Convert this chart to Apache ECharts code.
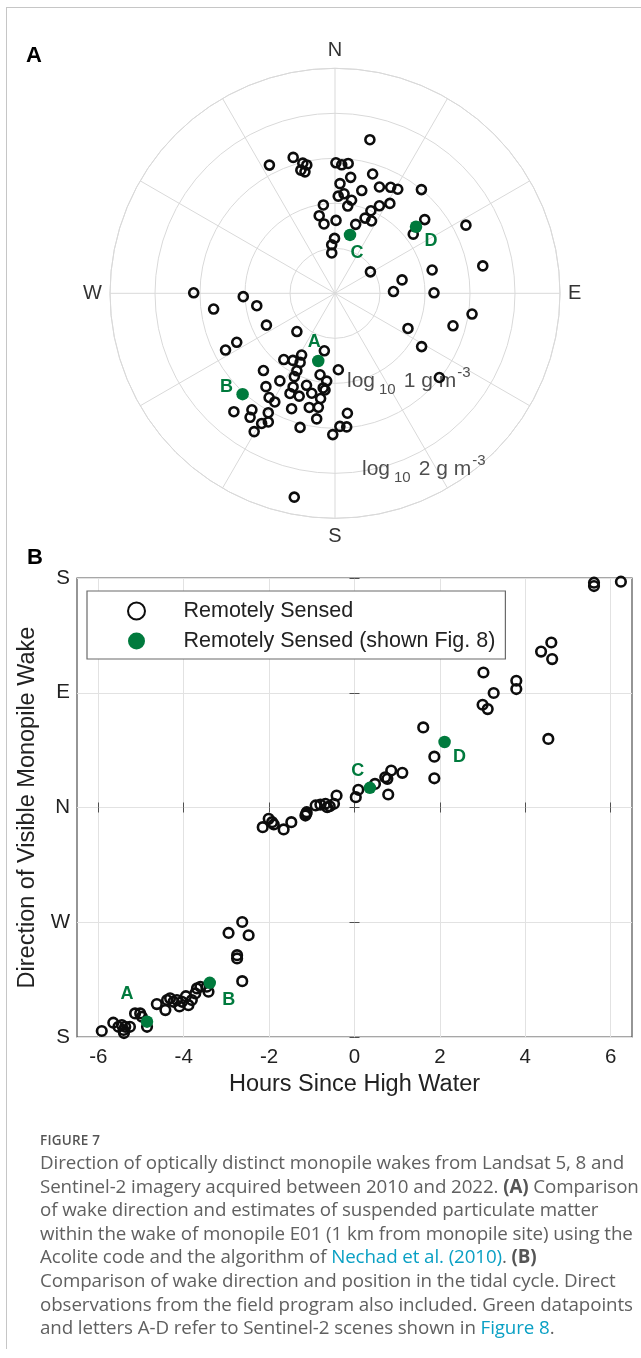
<!DOCTYPE html>
<html>
<head>
<meta charset="utf-8">
<script src="https://cdn.jsdelivr.net/npm/echarts@6/dist/echarts.min.js"></script>
<style>
html,body{margin:0;padding:0;background:#fff;}
#wrap{position:relative;width:641px;height:1358px;overflow:hidden;background:#fff;}
#frame{position:absolute;left:6px;top:7px;width:700px;height:1341px;border-left:1px solid #c6c6c6;border-top:1px solid #c6c6c6;}
#chart{position:absolute;left:0;top:0;width:641px;height:1358px;}
#cap{position:absolute;left:40px;top:1131px;font-family:'Open Sans','Noto Sans',sans-serif;color:#606060;white-space:nowrap;}
#cap .fig{font-size:13.5px;font-weight:600;letter-spacing:0.2px;line-height:18px;color:#555;}
#cap .txt{font-size:18.75px;line-height:23.6px;margin-top:1px;letter-spacing:-0.1px;}
#cap b{font-weight:700;color:#555;}
#cap .lnk{color:#0aa0c4;}
</style>
</head>
<body>
<div id="wrap">
  <div id="frame"></div>
  <div id="chart"></div>
  <div id="cap">
    <div class="fig">FIGURE 7</div>
    <div class="txt">Direction of optically distinct monopile wakes from Landsat 5, 8 and<br>Sentinel-2 imagery acquired between 2010 and 2022. <b>(A)</b> Comparison<br>of wake direction and estimates of suspended particulate matter<br>within the wake of monopile E01 (1 km from monopile site) using the<br>Acolite code and the algorithm of <span class="lnk">Nechad et al. (2010)</span>. <b>(B)</b><br>Comparison of wake direction and position in the tidal cycle. Direct<br>observations from the field program also included. Green datapoints<br>and letters A-D refer to Sentinel-2 scenes shown in <span class="lnk">Figure 8</span>.</div>
  </div>
</div>
<script>
// ---------- DATA ----------
// Panel A: [wake direction (deg clockwise from N), log10 SPM (g m-3)]
const wakeOpen = [
  [332.9,1.60],[342.9,1.58],[346.1,1.49],[347.6,1.46],[344.5,1.42],[346.1,1.39],
  [0.4,1.45],[3.0,1.43],[5.8,1.45],[12.8,1.75],[17.5,1.39],[7.7,1.30],[2.6,1.22],
  [14.6,1.18],[22.7,1.28],[27.7,1.33],[31.1,1.35],[39.8,1.50],[5.2,1.11],[10.1,1.05],
  [8.3,0.98],[31.4,1.17],[26.9,1.09],[23.5,1.00],[21.8,0.90],[26.8,0.90],[16.7,0.80],
  [0.8,0.81],[359.5,0.61],[355.4,0.45],[352.5,0.99],[348.5,0.88],[351.0,0.78],[1.9,1.08],
  [356.1,0.54],[50.6,1.29],[52.9,1.09],[62.5,1.64],[58.8,0.46],[78.7,0.76],[88.3,0.65],
  [76.5,1.11],[89.7,1.10],[79.5,1.67],[98.6,1.54],[105.4,1.36],[115.7,0.90],[121.6,1.13],
  [128.9,1.49],[177.5,0.85],[174.1,1.34],[175.0,1.49],[177.9,1.48],[180.9,1.57],
  [270.2,1.57],[267.9,1.02],[261.0,0.88],[262.6,1.36],[245.1,0.84],[224.9,0.60],
  [243.5,1.22],[242.6,1.37],[190.5,0.65],[217.7,0.93],[212.1,0.88],[208.4,0.78],
  [206.8,0.86],[206.2,0.96],[206.0,1.03],[190.4,0.92],[185.4,0.98],[222.8,1.17],
  [212.2,1.15],[204.1,1.14],[197.2,1.07],[216.5,1.29],[212.3,1.37],[209.0,1.38],
  [204.2,1.22],[199.2,1.21],[193.1,1.14],[185.9,1.08],[187.8,1.18],[200.6,1.37],
  [192.7,1.30],[188.3,1.28],[188.3,1.41],[215.5,1.59],[214.4,1.67],[220.5,1.73],
  [209.2,1.52],[207.4,1.61],[209.4,1.66],[210.3,1.78],[194.6,1.54],[191.3,2.31],[187.1,1.06]
];
const wakeFig8 = [[193.9,0.775],[222.5,1.52],[14.4,0.67],[50.6,1.165]];
const ringLabelValues = [1, 2];
const compassLabels = {0:'N', 90:'E', 180:'S', 270:'W'};

// Panel B: [hours since high water, wake direction (deg, N = 0, E = 90, W = -90, S = +/-180)]
const tideOpen = [
  [5.61,176.3],[5.61,173.7],[6.24,177.1],[4.37,122.3],[4.61,129.4],[4.63,116.4],
  [3.02,105.9],[3.26,89.8],[3.00,80.6],[3.12,77.2],[3.79,99.4],[3.79,92.9],[4.54,53.8],
  [1.61,62.8],[1.87,39.9],[1.87,22.9],[1.12,27.2],[0.86,29.0],[0.72,23.7],[0.77,22.5],
  [0.48,18.5],[0.79,10.2],[0.09,13.9],[0.03,8.1],[-0.42,9.4],[-0.68,2.9],[-0.48,2.9],
  [-0.64,0.2],[-0.91,1.6],[-0.80,2.3],[-0.58,1.0],[-1.15,-6.3],[-1.12,-3.7],[-1.13,-5.0],
  [-1.48,-11.5],[-1.66,-17.2],[-1.89,-13.3],[-1.93,-11.5],[-2.01,-8.9],[-2.15,-15.4],
  [-2.63,-89.8],[-2.95,-98.4],[-2.48,-100.2],[-2.75,-115.8],[-2.75,-118.4],[-2.63,-136.2],
  [-3.46,-140.6],[-3.42,-144.5],[-3.69,-141.9],[-3.73,-145.8],[-3.61,-140.6],[-3.81,-151.0],
  [-3.89,-155.0],[-4.04,-152.4],[-4.16,-151.0],[-4.24,-152.4],[-4.32,-149.7],[-4.39,-151.0],
  [-4.43,-158.9],[-4.63,-154.2],[-3.95,-148.0],[-4.10,-156.0],[-5.14,-161.5],[-5.02,-161.5],
  [-4.98,-164.1],[-4.86,-172.0],[-5.26,-172.0],[-5.37,-172.0],[-5.45,-170.6],[-5.53,-172.0],
  [-5.65,-168.8],[-5.41,-174.5],[-5.40,-176.9],[-5.92,-175.3]
];
const tideFig8 = [[-4.86,-168.0],[-3.39,-137.5],[0.36,15.4],[2.11,51.4]];
const fig8Letters = ['A','B','C','D'];
const hourTicks = [-6,-4,-2,0,2,4,6];
const dirLabels = {'-180':'S','-90':'W','0':'N','90':'E','180':'S'};
const seriesNames = ['Remotely Sensed','Remotely Sensed (shown Fig. 8)'];

// ---------- STYLE ----------
const FONT = "'Liberation Sans', Arial, Helvetica, sans-serif";
const GREEN = '#007a3d';
const INK = '#0d0d0d';
const GRIDC = '#d9d9d9';
const offA = [[-4,-19],[-16,-7],[7,18],[15,14]];
const offB = [[-20,-28],[19,17],[-12,-17],[15,15]];
const ringOff = [[12,-2],[27,-4]];

const openStyle = {color:'transparent', borderColor:INK, borderWidth:2.6, opacity:1};
const letterLabel = () => ({
  show:true, position:'inside', fontSize:18, fontWeight:'bold', color:GREEN, fontFamily:FONT,
  formatter: p => fig8Letters[p.dataIndex]
});

const chart = echarts.init(document.getElementById('chart'), null, {renderer:'canvas'});
const option = {
  animation:false,
  textStyle:{fontFamily:FONT},
  polar:{center:[335,293.3], radius:225},
  angleAxis:{
    type:'value', min:0, max:360, interval:30, startAngle:90, clockwise:true,
    axisLine:{show:true, lineStyle:{color:GRIDC, width:1}},
    axisTick:{show:false},
    axisLabel:{show:true, margin:8, fontSize:20, color:'#333',
      formatter: v => (compassLabels[v] !== undefined && v < 360) ? compassLabels[v] : ''},
    splitLine:{show:true, lineStyle:{color:GRIDC, width:1}}
  },
  radiusAxis:{
    type:'value', min:0, max:2.5, interval:0.5,
    axisLine:{show:false}, axisTick:{show:false}, axisLabel:{show:false},
    splitLine:{show:true, lineStyle:{color:GRIDC, width:1}}
  },
  grid:{left:77, top:578, width:555, height:459, show:true, borderColor:'#505050', borderWidth:1.2},
  xAxis:[
    {type:'value', min:-6.5, max:6.5, position:'bottom',
     name:'Hours Since High Water', nameLocation:'middle', nameGap:36,
     nameTextStyle:{fontSize:23.5, color:'#222'},
     axisLine:{show:false},
     axisTick:{show:true, inside:true, length:5, customValues:hourTicks, lineStyle:{color:'#505050'}},
     axisLabel:{show:true, customValues:hourTicks, fontSize:20.5, color:'#222', margin:10},
     splitLine:{show:true, lineStyle:{color:'#e2e2e2', width:1}}},
    {type:'value', min:-6.5, max:6.5, position:'top',
     axisLine:{show:false},
     axisTick:{show:true, inside:true, length:5, customValues:hourTicks, lineStyle:{color:'#505050'}},
     axisLabel:{show:false}, splitLine:{show:false}}
  ],
  yAxis:[
    {type:'value', min:-180, max:180, interval:90, position:'left',
     name:'Direction of Visible Monopile Wake', nameLocation:'middle', nameGap:31,
     nameTextStyle:{fontSize:23.5, color:'#222'},
     axisLine:{show:false},
     axisTick:{show:true, inside:true, length:5, lineStyle:{color:'#505050'}},
     axisLabel:{show:true, fontSize:20.5, color:'#222', margin:7, formatter: v => dirLabels[String(v)] || ''},
     splitLine:{show:true, lineStyle:{color:'#e2e2e2', width:1}}},
    {type:'value', min:-180, max:180, interval:90, position:'right',
     axisLine:{show:false},
     axisTick:{show:true, inside:true, length:5, lineStyle:{color:'#505050'}},
     axisLabel:{show:false}, splitLine:{show:false}}
  ],
  legend:{
    data:seriesNames, orient:'vertical', left:87, top:591,
    padding:[9,10,7,40], itemWidth:84, itemHeight:17, itemGap:8,
    backgroundColor:'#fff', borderColor:'#6a6a6a', borderWidth:1.2,
    textStyle:{fontSize:21.5, color:'#222', fontFamily:FONT}, selectedMode:false
  },
  graphic:[
    {type:'text', left:26, top:45, style:{text:'A', font:"bold 22px 'Liberation Sans', Arial", fill:'#000'}},
    {type:'text', left:27, top:547, style:{text:'B', font:"bold 22px 'Liberation Sans', Arial", fill:'#000'}}
  ],
  series:[
    {type:'scatter', coordinateSystem:'polar', name:seriesNames[0], encode:{angle:0, radius:1},
     data:wakeOpen, symbol:'circle', symbolSize:9, itemStyle:openStyle, z:3},
    {type:'scatter', coordinateSystem:'polar', name:seriesNames[1], encode:{angle:0, radius:1},
     data:wakeFig8.map((d,i)=>({value:d, label:{offset:offA[i]}})),
     symbol:'circle', symbolSize:12.5, itemStyle:{color:GREEN, opacity:1}, label:letterLabel(), z:4},
    {type:'scatter', coordinateSystem:'polar', name:'ringLabels', encode:{angle:0, radius:1},
     data:ringLabelValues.map((v,i)=>({value:[180, v], label:{offset:ringOff[i]}})),
     symbolSize:0, silent:true, z:2,
     label:{show:true, position:'right', distance:0,
       formatter: p => `{m|log}{s|10}{m|${p.value[1]} g m}{p|-3}`,
       rich:{
         m:{fontSize:21, color:'#222', lineHeight:32, verticalAlign:'middle', fontFamily:FONT},
         s:{fontSize:15, color:'#222', lineHeight:15, verticalAlign:'bottom', fontFamily:FONT, padding:[0,8,0,4]},
         p:{fontSize:15, color:'#222', lineHeight:15, verticalAlign:'top', fontFamily:FONT, padding:[0,0,0,1]}
       }}},
    {type:'scatter', name:seriesNames[0], xAxisIndex:0, yAxisIndex:0,
     data:tideOpen, symbol:'circle', symbolSize:9.6, itemStyle:openStyle, z:3},
    {type:'scatter', name:seriesNames[1], xAxisIndex:0, yAxisIndex:0,
     data:tideFig8.map((d,i)=>({value:d, label:{offset:offB[i]}})),
     symbol:'circle', symbolSize:12.5, itemStyle:{color:GREEN, opacity:1}, label:letterLabel(), z:4}
  ]
};
chart.setOption(option);
</script>
</body>
</html>
